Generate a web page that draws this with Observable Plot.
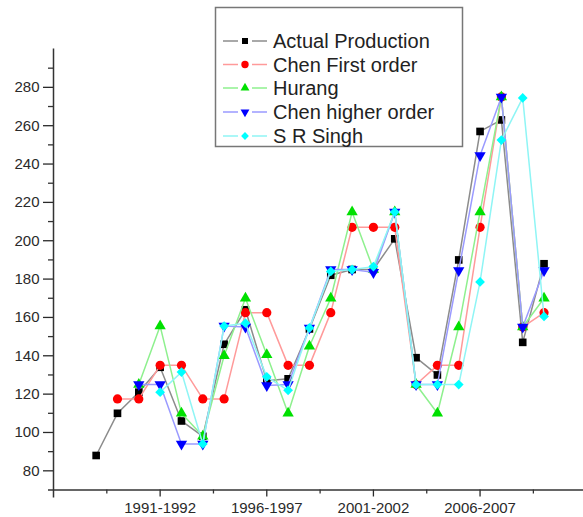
<!DOCTYPE html>
<html>
<head>
<meta charset="utf-8">
<script src="https://cdn.jsdelivr.net/npm/d3@7"></script>
<script src="https://cdn.jsdelivr.net/npm/@observablehq/plot@0.6"></script>
<style>
  html, body { margin: 0; padding: 0; background: #fff; }
  #wrap { position: relative; width: 583px; height: 517px; }
  #legend { position: absolute; left: 0; top: 0; }
</style>
</head>
<body>
<div id="wrap"></div>
<script>
// ---- data ----
const seasons = ["1988-1989","1989-1990","1990-1991","1991-1992","1992-1993","1993-1994",
  "1994-1995","1995-1996","1996-1997","1997-1998","1998-1999","1999-2000","2000-2001",
  "2001-2002","2002-2003","2003-2004","2004-2005","2005-2006","2006-2007","2007-2008",
  "2008-2009","2009-2010"];
const tickSeasons = ["1991-1992","1996-1997","2001-2002","2006-2007"];
const seriesNames = ["Actual Production","Chen First order","Hurang","Chen higher order","S R Singh"];
const actual     = [88, 110, 121, 134, 106, 98, 146, 164, 127, 128, 154, 182, 185, 185, 201, 139, 130, 190, 257, 263, 147, 188];
const chenFirst  = [null, 117.5, 117.5, 135, 135, 117.5, 117.5, 162.5, 162.5, 135, 135, 162.5, 207, 207, 207, 125, 135, 135, 207, 275, 155, 162.5];
const hurang     = [null, null, 125, 155.5, 110, 98, 140, 170, 140.5, 110, 145, 170, 215, 185, 215, 125, 110, 155, 215, 275, 155, 170];
const chenHigher = [null, null, 125, 125, 94, 94, 155.5, 155, 124.5, 125, 154.5, 185, 185, 183.5, 215, 125, 125, 184.5, 244.5, 275, 155, 184.5];
const srSingh    = [null, null, null, 121, 131.5, 94, 155.5, 157, 129, 122, 154.5, 184, 185, 186.5, 215, 125, 125, 125, 178.5, 252.5, 274.5, 160.5];
const yTicks = [80, 100, 120, 140, 160, 180, 200, 220, 240, 260, 280];

// ---- styles ----
const styles = [
  {symbol: "square",   fill: "#000000", line: "#8c8c8c", r: 4.3, rotate: 0},
  {symbol: "circle",   fill: "#ff0000", line: "#ff9a9a", r: 4.6, rotate: 0},
  {symbol: "triangle", fill: "#00e000", line: "#8ef08e", r: 4.2, rotate: 0},
  {symbol: "triangle", fill: "#0000ff", line: "#9a9aff", r: 4.2, rotate: 180},
  {symbol: "diamond2", fill: "#00ffff", line: "#8ff5f5", r: 4.4, rotate: 0}
];
const allValues = [actual, chenFirst, hurang, chenHigher, srSingh];
const startYear = s => +s.slice(0, 4);

const marks = [];
allValues.forEach((vals, k) => {
  const rows = seasons.map((s, i) => ({x: startYear(s), y: vals[i], name: seriesNames[k]}))
                      .filter(d => d.y != null);
  const st = styles[k];
  marks.push(Plot.line(rows, {x: "x", y: "y", stroke: st.line, strokeWidth: 1.5}));
  marks.push(Plot.dot(rows, {x: "x", y: "y", symbol: st.symbol, fill: st.fill, stroke: "none", r: st.r, rotate: st.rotate}));
});

const majorX = tickSeasons.map(startYear);
const minorX = majorX.map(v => v - 2.5).concat([majorX[majorX.length - 1] + 2.5]);
const minorY = yTicks.map(v => v + 10).filter(v => v < 300);
const labelOf = new Map(tickSeasons.map(s => [startYear(s), s]));

const chart = Plot.plot({
  width: 583,
  height: 517,
  marginLeft: 53,
  marginRight: 0,
  marginTop: 48.5,
  marginBottom: 27.5,
  x: {domain: [1986, 2010.85]},
  y: {domain: [70, 300]},
  style: {fontFamily: "Liberation Sans, Arial, sans-serif", background: "#fff", overflow: "visible"},
  marks: [
    Plot.axisY({ticks: yTicks, tickSize: 10, tickPadding: 4, fontSize: 15, color: "#2a2a2a", strokeWidth: 1.3, label: null}),
    Plot.axisY({ticks: minorY, tickSize: 5, tickFormat: () => "", color: "#333", strokeWidth: 1.3, label: null}),
    Plot.axisX({ticks: majorX, tickSize: 7, tickPadding: 5, fontSize: 15, color: "#2a2a2a", strokeWidth: 1.3,
                tickFormat: d => labelOf.get(d), label: null}),
    Plot.axisX({ticks: minorX, tickSize: 4, tickFormat: () => "", color: "#333", strokeWidth: 1.3, label: null}),
    Plot.ruleX([1986], {stroke: "#333", strokeWidth: 1.5, insetBottom: -8}),
    Plot.ruleY([70], {stroke: "#333", strokeWidth: 1.5, insetLeft: -5}),
    ...marks
  ]
});

const wrap = document.getElementById("wrap");
wrap.appendChild(chart);

// ---- legend overlay ----
const leg = d3.select(wrap).append("svg")
  .attr("id", "legend").attr("width", 583).attr("height", 160)
  .style("font-family", "Liberation Sans, Arial, sans-serif");
leg.append("rect").attr("x", 215.5).attr("y", 7.5).attr("width", 247).attr("height", 139)
  .attr("fill", "#fff").attr("stroke", "#777").attr("stroke-width", 1.5);
const rowY = [41, 64.5, 88, 112, 136];
seriesNames.forEach((name, k) => {
  const st = styles[k];
  const g = leg.append("g").attr("transform", `translate(0,${rowY[k]})`);
  g.append("line").attr("x1", 223).attr("x2", 238).attr("y1", 0).attr("y2", 0)
    .attr("stroke", st.line).attr("stroke-width", 1.5);
  g.append("line").attr("x1", 252).attr("x2", 267).attr("y1", 0).attr("y2", 0)
    .attr("stroke", st.line).attr("stroke-width", 1.5);
  const symType = {square: d3.symbolSquare, circle: d3.symbolCircle, triangle: d3.symbolTriangle, diamond2: d3.symbolDiamond2}[st.symbol];
  g.append("path").attr("d", d3.symbol(symType, Math.PI * (st.r - 0.9) ** 2)())
    .attr("transform", `translate(245,0) rotate(${st.rotate})`).attr("fill", st.fill);
  g.append("text").attr("x", 273).attr("y", 0).attr("dy", "0.36em")
    .attr("font-size", 20).attr("fill", "#222").text(name);
});
</script>
</body>
</html>
